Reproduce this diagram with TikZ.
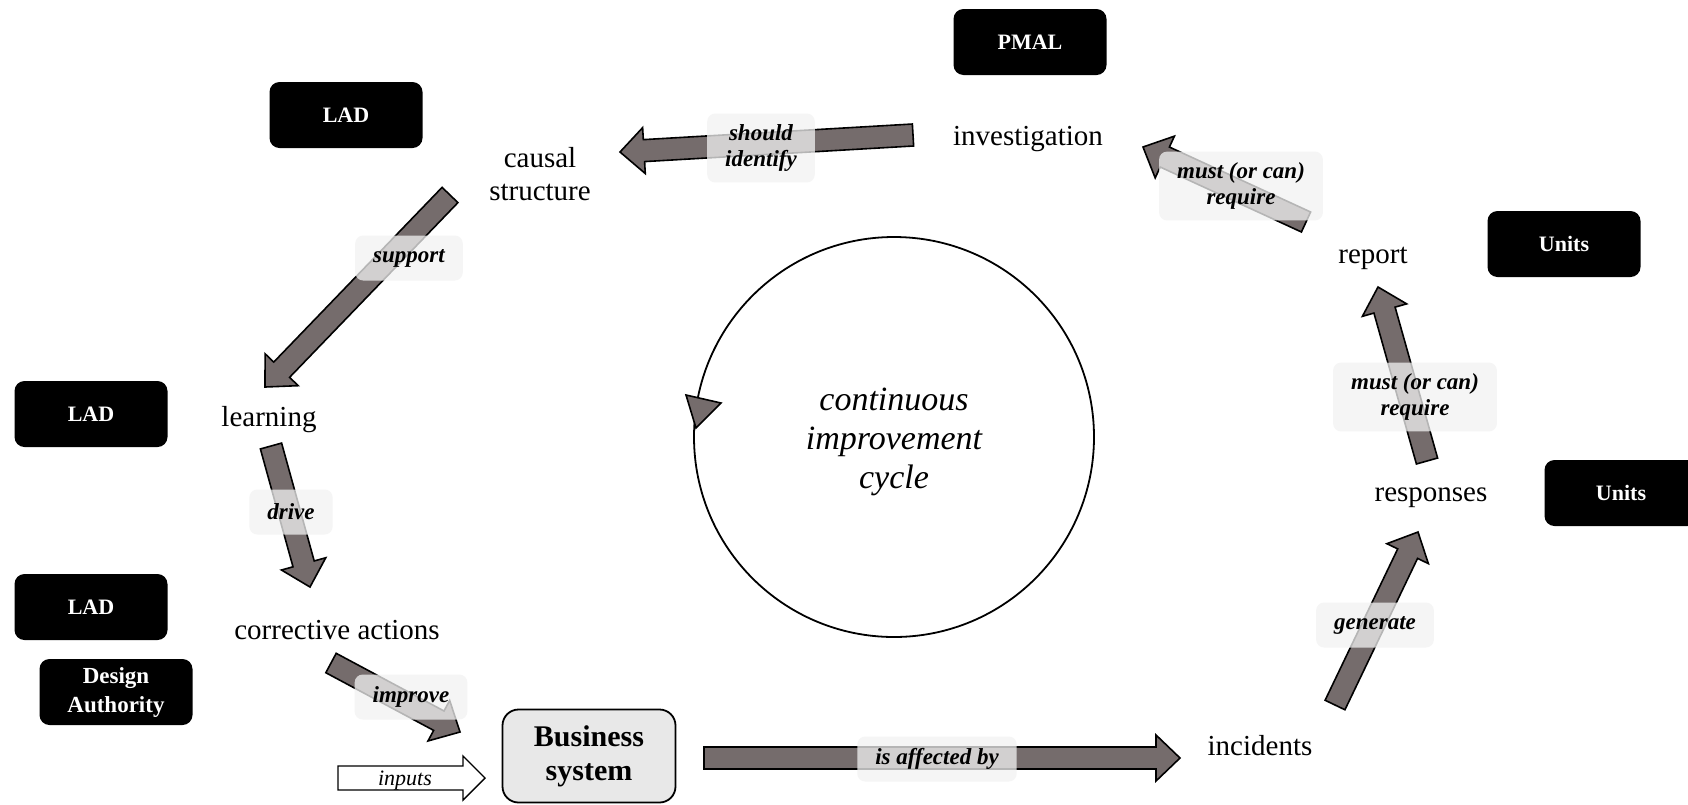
\documentclass[tikz,border=0pt]{standalone}
\usepackage{fontspec}
\setmainfont{Liberation Serif}
\usetikzlibrary{calc}
\definecolor{arrowgray}{RGB}{117,108,108}
\definecolor{labelbg}{RGB}{242,242,242}
\definecolor{busgray}{RGB}{232,232,232}
\newcommand\bashaft{11pt}
\newcommand\bahead{23pt}
\newcommand\balen{24pt}
\newcommand\blockarr[3][]{%
  \coordinate (bacc) at ($(#3)!\balen!(#2)$);
  \draw[blockarrowstyle,#1] ($(#2)!\bashaft!90:(#3)$) -- ($(bacc)!\bashaft!90:(#3)$) -- ($(bacc)!\bahead!90:(#3)$) -- (#3) -- ($(bacc)!\bahead!-90:(#3)$) -- ($(bacc)!\bashaft!-90:(#3)$) -- ($(#2)!\bashaft!-90:(#3)$) -- cycle;}
\tikzset{
  blockarrowstyle/.style={fill=arrowgray, draw=black, line width=1.6pt, line join=miter},
  lbl/.style={fill=labelbg, fill opacity=0.75, text opacity=1, rounded corners=8pt, inner xsep=18pt, inner ysep=11pt, minimum height=45pt, align=center, font=\fontsize{23}{26}\selectfont\bfseries\itshape},
  txt/.style={font=\fontsize{29}{33}\selectfont, align=center, inner sep=0pt},
  blk/.style={fill=black, text=white, rounded corners=10pt, minimum width=153pt, minimum height=66pt, align=center, font=\fontsize{22}{29}\selectfont\bfseries, inner sep=0pt},
}
\begin{document}
\begin{tikzpicture}[x=1pt,y=-1pt]
\fill[white] (0,0) rectangle (1688,804);
\useasboundingbox (0,0) rectangle (1688,804);

% text nodes
\node[txt] (invest) at (1028,139) {investigation};
\node[txt] (causal) at (540,174) {causal\\structure};
\node[txt] (learn) at (269,420) {learning};
\node[txt] (corr) at (337,630) {corrective actions};
\node[txt] (inc) at (1260,746) {incidents};
\node[txt] (resp) at (1431,498) {responses};
\node[txt] (report) at (1373,258) {report};
\node[draw=black, line width=1.8pt, fill=busgray, rounded corners=16pt, minimum width=173pt, minimum height=93pt, align=center, inner sep=0pt, font=\fontsize{30}{34}\selectfont\bfseries] (bus) at (589,756) {\raisebox{-3pt}{\parbox{170pt}{\centering Business\\system}}};

% role boxes
\node[blk] (pmal) at (1030,42) {PMAL};
\node[blk] (lad1) at (346,115) {LAD};
\node[blk] (units1) at (1564,244) {Units};
\node[blk] (units2) at (1621,493) {Units};
\node[blk] (lad2) at (91,414) {LAD};
\node[blk] (lad3) at (91,607) {LAD};
\node[blk, font=\fontsize{23}{29}\selectfont\bfseries] (da) at (116,692) {Design\\Authority};

% circle
\coordinate (cc) at (894,437);
\draw[line width=1.8pt] (cc) circle[radius=200pt];
\node[font=\fontsize{34}{39}\selectfont\itshape, align=center, inner sep=0pt] (cyc) at (894,442) {continuous\\improvement\\cycle};
\draw[fill=arrowgray, draw=black, line width=1.6pt, line join=miter] (686,395) -- (721,403) -- (696,428) -- cycle;

% arrow end points
\coordinate (a1t) at (913,135);  \coordinate (a1h) at (620,152);
\coordinate (a2t) at (450,195);  \coordinate (a2h) at (265,387);
\coordinate (a3t) at (271,446);  \coordinate (a3h) at (310,587);
\coordinate (a4t) at (331,663);  \coordinate (a4h) at (460,732);
\coordinate (a5t) at (338,778);  \coordinate (a5h) at (485,778);
\coordinate (a6t) at (704,758);  \coordinate (a6h) at (1180,758);
\coordinate (a7t) at (1335,705); \coordinate (a7h) at (1418,532);
\coordinate (a8t) at (1427,461); \coordinate (a8h) at (1378,287);
\coordinate (a9t) at (1306,222); \coordinate (a9h) at (1143,147);

\blockarr{a1t}{a1h}
\blockarr{a2t}{a2h}
\blockarr{a3t}{a3h}
\blockarr{a4t}{a4h}
{\renewcommand\bashaft{12pt}\renewcommand\bahead{22pt}\renewcommand\balen{22pt}%
 \blockarr[fill=white, line width=1.4pt]{a5t}{a5h}}
\blockarr{a6t}{a6h}
\blockarr{a7t}{a7h}
\blockarr{a8t}{a8h}
\blockarr{a9t}{a9h}

\node[font=\fontsize{22}{24}\selectfont\itshape, inner sep=0pt] (inputs) at (405,781) {inputs};

% labels
\node[lbl] (l1) at (761,148) {should\\identify};
\node[lbl] (l2) at (409,258) {support};
\node[lbl] (l3) at (291,512) {drive};
\node[lbl] (l4) at (411,697) {improve};
\node[lbl] (l6) at (937,759) {is affected by};
\node[lbl] (l7) at (1375,625) {generate};
\node[lbl] (l8) at (1415,397) {must (or can)\\require};
\node[lbl] (l9) at (1241,186) {must (or can)\\require};
\end{tikzpicture}
\end{document}
